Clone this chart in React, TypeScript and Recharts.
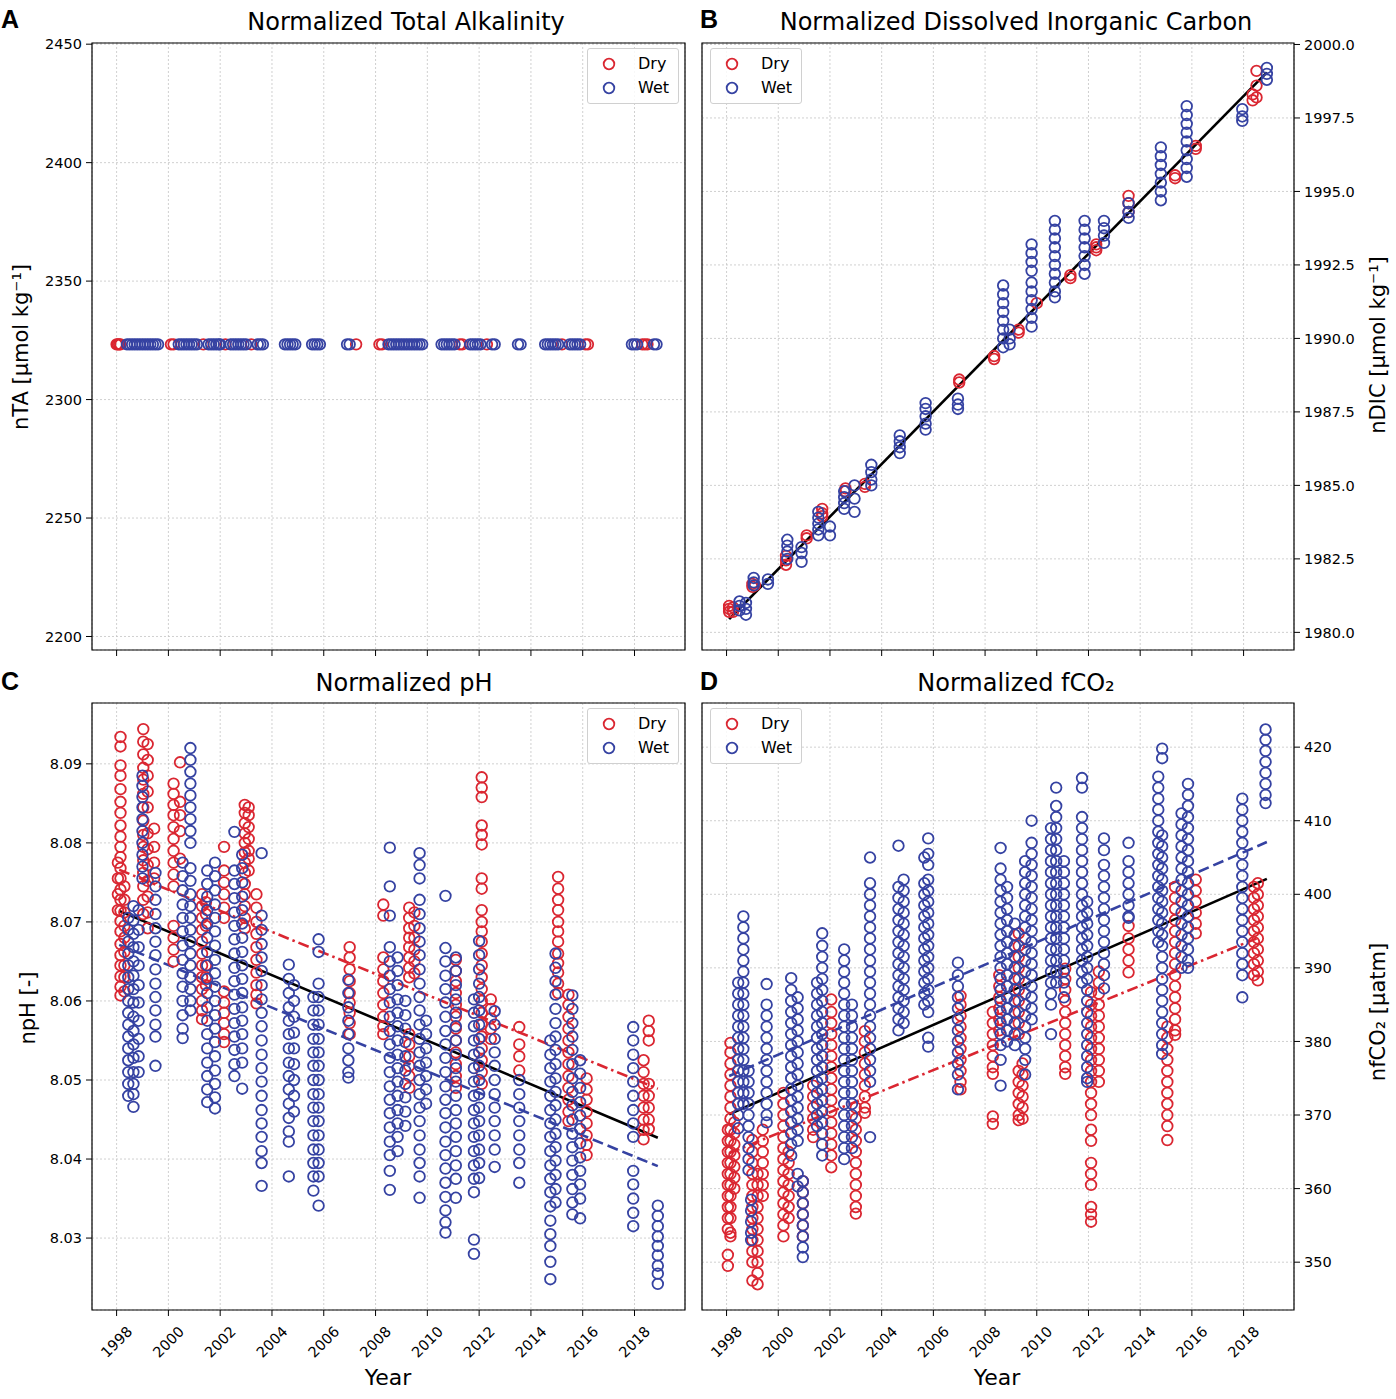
// @ts-nocheck
import React from 'react'
import { ScatterChart, Scatter, XAxis, YAxis, CartesianGrid, ReferenceLine, ReferenceArea } from 'recharts'

type Col = [number, number[]]

const RED = '#da2631'
const BLUE = '#3542a2'
const FONT = 'DejaVu Sans'

const X_DOMAIN = [1997.05, 2019.95]
const YEAR_TICKS = [1998, 2000, 2002, 2004, 2006, 2008, 2010, 2012, 2014, 2016, 2018]

// panel A: nTA is one normalized value, sampled at these times
const TA_LEVEL = 2323.3
const taDryYears = [1998.0, 1998.05, 1998.1, 1998.15, 2000.1, 2000.2, 2001.35, 2002.2, 2003.2, 2007.25,
  2008.15, 2008.25, 2011.25, 2011.35, 2012.3, 2015.2, 2016.1, 2016.2, 2018.3, 2018.4, 2018.5]
const taWetYears = [1998.4, 1998.5, 1998.6, 1998.7, 1998.8, 1998.9, 1999.0, 1999.1, 1999.2, 1999.3, 1999.4,
  1999.5, 1999.6, 2000.4, 2000.5, 2000.6, 2000.7, 2000.8, 2000.9, 2001.0, 2001.1, 2001.55, 2001.65, 2001.75,
  2001.85, 2001.95, 2002.0, 2002.4, 2002.5, 2002.6, 2002.7, 2002.8, 2002.9, 2003.0, 2003.45, 2003.55, 2003.65,
  2004.5, 2004.6, 2004.7, 2004.8, 2004.9, 2005.55, 2005.65, 2005.75, 2005.85, 2006.9, 2007.0, 2008.5, 2008.6,
  2008.7, 2008.8, 2008.9, 2009.0, 2009.1, 2009.2, 2009.3, 2009.4, 2009.5, 2009.6, 2009.7, 2009.8, 2010.55,
  2010.65, 2010.75, 2010.85, 2010.95, 2011.05, 2011.65, 2011.75, 2011.85, 2011.95, 2012.05, 2012.5, 2012.6,
  2013.5, 2013.6, 2014.55, 2014.65, 2014.75, 2014.85, 2014.95, 2015.05, 2015.5, 2015.6, 2015.7, 2015.8,
  2015.9, 2017.9, 2018.0, 2018.1, 2018.75, 2018.85]

// panel B: nDIC
const dicDry: Col[] = [
  [1998.1, [1980.9, 1980.8, 1980.7]], [1998.25, [1980.85, 1980.7]], [1999.0, [1981.65, 1981.55]],
  [1999.1, [1981.6]], [2000.3, [1982.6, 1982.45, 1982.3]], [2001.1, [1983.3, 1983.2]],
  [2001.7, [1984.2, 1984.05, 1983.95]], [2002.6, [1984.9, 1984.8]], [2003.35, [1985.05, 1984.95]],
  [2007.0, [1988.6, 1988.5]], [2008.35, [1989.4, 1989.3]], [2009.3, [1990.3, 1990.2]], [2010.0, [1991.2]],
  [2011.3, [1992.15, 1992.05]], [2012.3, [1993.2, 1993.1, 1993.0]], [2013.55, [1994.85, 1994.6, 1994.3]],
  [2015.35, [1995.55, 1995.45]], [2016.15, [1996.55, 1996.45]], [2018.35, [1998.3, 1998.1]],
  [2018.5, [1999.1, 1998.6, 1998.2]],
]
const dicWet: Col[] = [
  [1998.5, [1981.05, 1980.9, 1980.75]], [1998.75, [1981.0, 1980.8, 1980.6]], [1999.05, [1981.85, 1981.7, 1981.6]],
  [1999.6, [1981.8, 1981.65]], [2000.35, [1983.15, 1982.95, 1982.75, 1982.5]], [2000.9, [1982.9, 1982.7, 1982.4]],
  [2001.55, [1984.1, 1983.9, 1983.7, 1983.5, 1983.3]], [2002.0, [1983.6, 1983.3]],
  [2002.55, [1984.8, 1984.6, 1984.4, 1984.2]], [2002.95, [1985.0, 1984.55, 1984.1]],
  [2003.6, [1985.7, 1985.45, 1985.2, 1985.0]], [2004.7, [1986.7, 1986.5, 1986.3, 1986.1]],
  [2005.7, [1987.8, 1987.6, 1987.35, 1987.1, 1986.9]], [2006.95, [1987.95, 1987.75, 1987.6]],
  [2008.7, [1991.8, 1991.5, 1991.2, 1990.9, 1990.6, 1990.3, 1990.0, 1989.7]], [2008.95, [1990.3, 1990.0, 1989.8]],
  [2009.8, [1993.2, 1992.9, 1992.6, 1992.3, 1991.9, 1991.6, 1991.3, 1991.0, 1990.7, 1990.4]],
  [2010.7, [1994.0, 1993.7, 1993.4, 1993.1, 1992.8, 1992.5, 1992.2, 1991.9, 1991.6, 1991.4]],
  [2011.85, [1994.0, 1993.7, 1993.4, 1993.1, 1992.8, 1992.5, 1992.2]], [2012.6, [1994.0, 1993.75, 1993.5, 1993.25]],
  [2013.55, [1994.6, 1994.3, 1994.1]], [2014.8, [1996.5, 1996.2, 1995.9, 1995.6, 1995.3, 1995.0, 1994.7]],
  [2015.8, [1997.9, 1997.6, 1997.3, 1997.0, 1996.7, 1996.4, 1996.1, 1995.8, 1995.5]],
  [2017.95, [1997.8, 1997.55, 1997.4]], [2018.9, [1999.2, 1999.0, 1998.8]],
]

// panel C: npH
const phDry: Col[] = [
  [1998.05, [8.0775, 8.0755, 8.0735, 8.0715]],
  [1998.15, [8.0934, 8.0922, 8.0898, 8.0885, 8.0868, 8.0852, 8.0838, 8.0822, 8.0808, 8.0795, 8.0782, 8.0768, 8.0755, 8.0741, 8.0728, 8.0714, 8.0701, 8.0688, 8.0672, 8.0658, 8.0645, 8.0631, 8.0618, 8.0607]],
  [1998.3, [8.0745, 8.0728, 8.0712, 8.0695, 8.068, 8.0662, 8.0645, 8.063, 8.0612]],
  [1999.03, [8.0944, 8.0928, 8.0912, 8.0895, 8.088, 8.0862, 8.0845, 8.0828, 8.081, 8.0795, 8.0778, 8.0762, 8.0745, 8.0728, 8.071]],
  [1999.2, [8.0925, 8.0905, 8.0885, 8.0865, 8.0845, 8.0812, 8.0792, 8.0772, 8.0752, 8.0732, 8.0712, 8.0692]],
  [1999.45, [8.0818, 8.0795, 8.0775, 8.0755]],
  [2000.2, [8.0875, 8.0862, 8.0848, 8.0835, 8.082, 8.0805, 8.079, 8.0775, 8.076, 8.0745, 8.0695, 8.068, 8.0665, 8.065]],
  [2000.45, [8.0902, 8.0852, 8.0835, 8.0815, 8.078]],
  [2001.3, [8.0735, 8.072, 8.0705, 8.069, 8.0675, 8.066, 8.0645, 8.063, 8.0615, 8.06, 8.0588, 8.0577]],
  [2001.45, [8.0725, 8.071, 8.0695, 8.0645, 8.063, 8.062]],
  [2002.15, [8.0795, 8.0765, 8.075, 8.0735, 8.0718, 8.0705, 8.0612, 8.0598, 8.0585, 8.0572, 8.0558, 8.0548]],
  [2002.95, [8.0848, 8.0838, 8.0825, 8.0812, 8.08, 8.0788, 8.0775, 8.0762, 8.0748, 8.0735, 8.072, 8.0705, 8.0692]],
  [2003.1, [8.0845, 8.0835, 8.082, 8.0805, 8.079, 8.078, 8.0765]],
  [2003.4, [8.0735, 8.0718, 8.07, 8.0685, 8.0668, 8.0652, 8.0636, 8.062, 8.0608, 8.0597]],
  [2007.0, [8.0668, 8.0655, 8.064, 8.0625, 8.061, 8.0598, 8.0585, 8.0572, 8.0558]],
  [2008.3, [8.0722, 8.0708, 8.0655, 8.064, 8.0625, 8.061, 8.0595, 8.058, 8.0568, 8.0558]],
  [2009.3, [8.0718, 8.0705, 8.0692, 8.068, 8.0668, 8.0655, 8.0642, 8.063, 8.0558, 8.0545, 8.053, 8.0518, 8.0505, 8.049]],
  [2009.5, [8.0712, 8.0695, 8.068, 8.0665, 8.065, 8.0635]],
  [2011.1, [8.0652, 8.0638, 8.0625, 8.061, 8.0595, 8.058, 8.0565, 8.055, 8.0535, 8.052, 8.0505, 8.049]],
  [2012.1, [8.0883, 8.087, 8.0858, 8.0822, 8.081, 8.0798, 8.0755, 8.0742, 8.0715, 8.07, 8.0688, 8.0675, 8.066, 8.0645, 8.063, 8.0615, 8.06, 8.0585, 8.057, 8.0555, 8.054, 8.0525, 8.051, 8.0495]],
  [2012.45, [8.0602, 8.059, 8.0578, 8.0565, 8.0552]],
  [2013.55, [8.0567, 8.0545, 8.053, 8.0512]],
  [2015.05, [8.0757, 8.0742, 8.0728, 8.0715, 8.07, 8.0688, 8.0675, 8.066, 8.0648, 8.0636, 8.0622, 8.061]],
  [2015.45, [8.0608, 8.0595, 8.058, 8.0565, 8.055, 8.0535, 8.052, 8.0505, 8.049, 8.0475, 8.046, 8.0448]],
  [2016.15, [8.0502, 8.0488, 8.0475, 8.046, 8.0445, 8.043, 8.0418, 8.0405]],
  [2018.35, [8.0525, 8.051, 8.0495, 8.048, 8.0465, 8.045, 8.0437, 8.0425]],
  [2018.55, [8.0575, 8.0562, 8.055, 8.0495, 8.048, 8.0465, 8.045, 8.0438]],
]
const phWet: Col[] = [
  [1998.45, [8.0705, 8.069, 8.0675, 8.066, 8.0645, 8.063, 8.0615, 8.06, 8.0585, 8.057, 8.0555, 8.054, 8.0525, 8.051, 8.0495, 8.048]],
  [1998.65, [8.072, 8.0702, 8.0685, 8.0668, 8.065, 8.0632, 8.0615, 8.0598, 8.058, 8.0562, 8.0545, 8.0528, 8.051, 8.0495, 8.0482, 8.0466]],
  [1998.85, [8.0715, 8.069, 8.0668, 8.0645, 8.062, 8.0598, 8.0575, 8.0552, 8.053, 8.051]],
  [1999.0, [8.0885, 8.0872, 8.0858, 8.0845, 8.083, 8.0815, 8.08, 8.0785, 8.077, 8.0755]],
  [1999.5, [8.0762, 8.0745, 8.0728, 8.071, 8.0692, 8.0675, 8.0658, 8.064, 8.0622, 8.0605, 8.0588, 8.057, 8.0555, 8.0518]],
  [2000.55, [8.0775, 8.0758, 8.074, 8.0722, 8.0705, 8.0688, 8.067, 8.0652, 8.0635, 8.0618, 8.06, 8.0582, 8.0565, 8.0553]],
  [2000.85, [8.092, 8.0905, 8.089, 8.0875, 8.086, 8.0845, 8.083, 8.0815, 8.08, 8.0768, 8.0752, 8.0735, 8.072, 8.0705, 8.069, 8.0675, 8.066, 8.0645, 8.063, 8.0615, 8.06, 8.0588]],
  [2001.5, [8.0765, 8.0748, 8.0732, 8.0715, 8.0698, 8.068, 8.0662, 8.0645, 8.0628, 8.061, 8.0592, 8.0575, 8.0558, 8.054, 8.0522, 8.0505, 8.0488, 8.0472]],
  [2001.8, [8.0775, 8.0758, 8.074, 8.0722, 8.0705, 8.0688, 8.067, 8.0652, 8.0635, 8.0618, 8.06, 8.0582, 8.0565, 8.0548, 8.053, 8.0512, 8.0495, 8.0478, 8.0464]],
  [2002.55, [8.0814, 8.0765, 8.0748, 8.073, 8.0712, 8.0695, 8.0678, 8.066, 8.0642, 8.0625, 8.0608, 8.059, 8.0572, 8.0555, 8.0538, 8.052, 8.0505]],
  [2002.85, [8.0785, 8.0768, 8.075, 8.0732, 8.0715, 8.0698, 8.068, 8.0662, 8.0645, 8.0628, 8.061, 8.0592, 8.0575, 8.0558, 8.054, 8.0522, 8.0489]],
  [2003.6, [8.0787, 8.0708, 8.069, 8.0672, 8.0655, 8.0638, 8.062, 8.0602, 8.0585, 8.0568, 8.055, 8.0532, 8.0515, 8.0498, 8.048, 8.0462, 8.0445, 8.0428, 8.041, 8.0395, 8.0366]],
  [2004.65, [8.0646, 8.0628, 8.061, 8.0592, 8.0575, 8.0558, 8.054, 8.0522, 8.0505, 8.0488, 8.047, 8.0452, 8.0435, 8.0422, 8.0378]],
  [2004.85, [8.062, 8.06, 8.058, 8.056, 8.054, 8.052, 8.05, 8.048, 8.046]],
  [2005.6, [8.0605, 8.0588, 8.057, 8.0552, 8.0535, 8.0518, 8.05, 8.0482, 8.0465, 8.0448, 8.043, 8.0412, 8.0395, 8.0378, 8.036]],
  [2005.8, [8.0678, 8.0662, 8.0622, 8.0605, 8.0588, 8.057, 8.0552, 8.0535, 8.0518, 8.05, 8.0482, 8.0465, 8.0448, 8.043, 8.0412, 8.0395, 8.0378, 8.0341]],
  [2006.95, [8.0627, 8.061, 8.0592, 8.0575, 8.0558, 8.054, 8.0525, 8.051, 8.0503]],
  [2008.55, [8.0794, 8.0745, 8.0708, 8.0668, 8.065, 8.0632, 8.0615, 8.0598, 8.058, 8.0562, 8.0545, 8.0528, 8.051, 8.0492, 8.0475, 8.0458, 8.044, 8.0422, 8.0405, 8.0385, 8.0361]],
  [2008.85, [8.0655, 8.0638, 8.062, 8.0602, 8.0585, 8.0568, 8.055, 8.0532, 8.0515, 8.0498, 8.048, 8.0462, 8.0445, 8.0428, 8.041]],
  [2009.15, [8.06, 8.0582, 8.0565, 8.0548, 8.053, 8.0512, 8.0495, 8.0478, 8.046, 8.0442]],
  [2009.7, [8.0787, 8.0772, 8.0755, 8.0728, 8.071, 8.0692, 8.0675, 8.0658, 8.064, 8.0622, 8.0605, 8.0588, 8.057, 8.0552, 8.0535, 8.0518, 8.05, 8.0482, 8.0465, 8.0448, 8.043, 8.0412, 8.0395, 8.0378, 8.0351]],
  [2009.95, [8.0575, 8.0558, 8.054, 8.0522, 8.0505, 8.0488, 8.047]],
  [2010.7, [8.0733, 8.0667, 8.065, 8.0632, 8.0615, 8.0598, 8.058, 8.0562, 8.0545, 8.0528, 8.051, 8.0492, 8.0475, 8.0458, 8.044, 8.0422, 8.0405, 8.0388, 8.037, 8.0352, 8.0335, 8.032, 8.0307]],
  [2011.1, [8.0655, 8.0638, 8.062, 8.0602, 8.0585, 8.0568, 8.055, 8.0532, 8.0515, 8.0498, 8.048, 8.0462, 8.0445, 8.0428, 8.041, 8.0392, 8.0375, 8.0351]],
  [2011.8, [8.0602, 8.0585, 8.0568, 8.055, 8.0532, 8.0515, 8.0498, 8.048, 8.0462, 8.0445, 8.0428, 8.041, 8.0392, 8.0375, 8.0358, 8.0298, 8.028]],
  [2012.0, [8.0676, 8.0658, 8.064, 8.0622, 8.0605, 8.0588, 8.057, 8.0552, 8.0535, 8.0518, 8.05, 8.0482, 8.0465, 8.0448, 8.043, 8.0412, 8.0395, 8.0376]],
  [2012.6, [8.0587, 8.057, 8.0552, 8.0535, 8.0518, 8.05, 8.0482, 8.0465, 8.0448, 8.043, 8.0412, 8.039]],
  [2013.55, [8.05, 8.0482, 8.0465, 8.0448, 8.043, 8.0412, 8.0395, 8.037]],
  [2014.75, [8.055, 8.0532, 8.0515, 8.0498, 8.048, 8.0462, 8.0445, 8.0428, 8.041, 8.0392, 8.0375, 8.0358, 8.034, 8.0322, 8.0305, 8.029, 8.027, 8.0248]],
  [2014.95, [8.066, 8.0642, 8.0625, 8.0608, 8.059, 8.0572, 8.0555, 8.0538, 8.052, 8.0502, 8.0485, 8.0468, 8.045, 8.0432, 8.0415, 8.0398, 8.038, 8.0362, 8.0345]],
  [2015.6, [8.0607, 8.059, 8.0572, 8.0555, 8.0538, 8.052, 8.0502, 8.0485, 8.0468, 8.045, 8.0432, 8.0415, 8.0398, 8.038, 8.0362, 8.0345, 8.033]],
  [2015.9, [8.0525, 8.0508, 8.049, 8.0472, 8.0455, 8.0438, 8.042, 8.0402, 8.0385, 8.0368, 8.035, 8.0325]],
  [2017.95, [8.0567, 8.055, 8.0532, 8.0515, 8.0498, 8.048, 8.0462, 8.0445, 8.0428, 8.0385, 8.0368, 8.035, 8.0332, 8.0315]],
  [2018.9, [8.0341, 8.0328, 8.0315, 8.0302, 8.029, 8.0278, 8.0265, 8.0255, 8.0242]],
]

// panel D: nfCO2
const co2Dry: Col[] = [
  [1998.05, [368, 366.5, 365, 363.5, 362, 360.5, 359, 357.5, 356, 354.5, 351, 349.5]],
  [1998.15, [379.8, 378.5, 377, 375.5, 374, 372.5, 371, 369.5, 368, 366.5, 365, 363.5, 362, 360.5, 359, 357.5, 356, 354, 353.5]],
  [1998.3, [369, 367.5, 366, 364.5, 363, 361.5, 360]],
  [1999.0, [366.6, 365, 363.5, 362, 360.5, 359, 357.5, 356, 354.5, 353, 351.5, 350, 347.5]],
  [1999.2, [362, 360.5, 359, 357.5, 356, 354.5, 353, 351.5, 350, 348.5, 347]],
  [1999.4, [368, 366.5, 365, 363.5, 362, 360.5, 359]],
  [2000.2, [373, 371.5, 370, 368.5, 367, 365.5, 364, 362.5, 361, 359.5, 358, 356.5, 355, 353.5]],
  [2000.4, [365, 363.5, 362, 360.5, 359, 357.5, 356]],
  [2000.95, [361, 359.5, 358, 356.5, 355, 353.5]],
  [2001.35, [374, 372.5, 371, 369.5, 368, 367]],
  [2002.05, [385.7, 384, 382.5, 381, 379.5, 378, 376.5, 375, 373.5, 372, 370.5, 369, 367.5, 366, 364.5, 362.9]],
  [2003.0, [371, 369.5, 368, 366.5, 365, 363.5, 362, 360.5, 359, 357.5, 356.6]],
  [2003.35, [381.4, 380, 378.5, 377, 375.5, 374, 372.5, 371, 370.3]],
  [2007.05, [386.2, 385, 383.5, 382, 380.5, 379, 377.5, 376, 374.5, 373.5]],
  [2008.3, [384, 382.5, 381, 379.5, 378, 376.5, 375.6, 369.8, 368.8]],
  [2008.55, [389, 387.5, 386, 384.5, 383, 381.5]],
  [2009.3, [394.7, 393, 391.5, 390, 388.5, 387, 385.5, 384, 382.5, 381, 376, 374.5, 373, 371.5, 370, 369.3]],
  [2009.45, [377, 375.5, 374, 372.5, 371, 369.5]],
  [2011.1, [389.9, 388.5, 387, 385.5, 384, 382.5, 381, 379.5, 378, 376.5, 375.6]],
  [2012.1, [386.7, 385, 383.5, 382, 380.5, 379, 377.5, 376, 374.5, 373, 371.5, 370, 368, 366.5, 363.5, 362, 360.5, 357.5, 356.5, 355.5]],
  [2012.4, [389.5, 388, 386.5, 385, 383.5, 382, 380.5, 379, 377.5, 376, 374.5]],
  [2013.55, [395.7, 394, 392.5, 391, 389.4]],
  [2015.05, [382, 380.5, 379, 377.5, 376, 374.5, 373, 371.5, 370, 368.5, 366.6]],
  [2015.35, [401, 399.5, 398, 396.5, 395, 393.5, 392, 390.5, 389, 387.5, 386, 384.5, 383, 381.5, 380.9]],
  [2016.15, [402, 400.5, 399, 397.5, 396, 394.7]],
  [2018.4, [401, 399.5, 398, 396.5, 395, 393.5, 392, 390.5, 389]],
  [2018.55, [401.5, 400, 398.5, 397, 395.5, 394, 392.5, 391, 389.5, 388.3]],
]
const co2Wet: Col[] = [
  [1998.45, [388, 386.5, 385, 383.5, 382, 380.5, 379, 377.5, 376, 374.5, 373, 371.5, 370, 368.2]],
  [1998.65, [397, 395.5, 394, 392.5, 391, 389.5, 388, 386.5, 385, 383.5, 382, 380.5, 379, 377.5, 376, 374.5, 373, 371.5]],
  [1998.85, [376, 374.5, 373, 371.5, 370, 368.5, 367, 365.5, 364, 362.5]],
  [1998.95, [358.5, 357, 355.5, 354, 353]],
  [1999.55, [387.8, 385, 383.5, 382, 380.5, 379, 377.5, 376, 374.5, 373, 371.5, 370, 369]],
  [2000.5, [388.6, 387, 385.5, 384, 382.5, 381, 379.5, 378, 376.5, 375, 373.5, 372, 370.5, 369, 367.5, 366, 364.5]],
  [2000.75, [386, 384.5, 383, 381.5, 380, 378.5, 377, 375.5, 374, 372.5, 371, 369.5, 368, 366.5, 362, 360.3]],
  [2000.95, [361, 359.5, 358, 356.5, 355, 353.5, 352, 350.7]],
  [2001.5, [388, 386.5, 385, 383.5, 382, 380.5, 379, 377.5, 376, 374.5, 373, 371.5, 370, 368.5]],
  [2001.7, [394.7, 393, 391.5, 390, 388.5, 387, 385.5, 384, 382.5, 381, 379.5, 378, 376.5, 375, 373.5, 372, 370.5, 369, 367.5, 366, 364.5]],
  [2002.55, [392.5, 391, 389.5, 388, 386.5, 385, 383.5, 382, 380.5, 379, 377.5, 376, 374.5, 373, 371.5, 370, 368.5, 367, 365.5, 364]],
  [2002.85, [385, 383.5, 382, 380.5, 379, 377.5, 376, 374.5, 373, 371.5, 370, 368.5, 367, 365.5]],
  [2003.55, [405, 401.5, 400, 398.5, 397, 395.5, 394, 392.5, 391, 389.5, 388, 386.5, 385, 383.5, 382, 380.5, 379, 377.5, 376, 374.5, 367]],
  [2004.65, [406.6, 401, 399.5, 398, 396.5, 395, 393.5, 392, 390.5, 389, 387.5, 386, 384.5, 383, 381.5]],
  [2004.85, [402, 400.5, 399, 397.5, 396, 394.5, 393, 391.5, 390, 388.5, 387, 385.5, 384, 382.5]],
  [2005.65, [405, 401.5, 400, 398.5, 397, 395.5, 394, 392.5, 391, 389.5, 388, 386.5, 385]],
  [2005.8, [407.6, 405.5, 404, 402, 400.5, 399, 397.5, 396, 394.5, 393, 391.5, 390, 388.5, 387, 385.5, 384, 380.5, 379.3]],
  [2006.95, [390.7, 389, 387.5, 386, 384.5, 383, 381.5, 380, 378.5, 377, 375.5, 373.5]],
  [2008.6, [406.3, 403.5, 402, 400.5, 399, 397.5, 396, 394.5, 393, 391.5, 390, 388.5, 387, 385.5, 384, 382.5, 381, 379.5, 377.5, 374]],
  [2008.85, [401, 399.5, 398, 396.5, 395, 393.5, 392, 390.5, 389, 387.5, 386, 384.5, 383, 381.5, 380]],
  [2009.15, [396, 394.5, 393, 391.5, 390, 388.5, 387, 385.5, 384, 382.5, 381, 379.5]],
  [2009.55, [404.5, 403, 401.5, 400, 398.5, 397, 395.5, 394, 392.5, 391, 389.5, 388, 386.5, 385, 383.5, 382, 380.5, 379, 377.5, 375.5]],
  [2009.8, [410, 407, 405.5, 404, 402.5, 401, 399.5, 398, 396.5, 395, 393.5, 392, 390.5, 389, 387.5, 386, 384.5, 383]],
  [2010.55, [409, 407.5, 406, 404.5, 403, 401.5, 400, 398.5, 397, 395.5, 394, 392.5, 391, 389.5, 388, 386.5, 385, 381]],
  [2010.75, [414.5, 412, 410.5, 409, 407.5, 406, 404.5, 403, 401.5, 400, 398.5, 397, 395.5, 394, 392.5, 391, 389.5, 388]],
  [2011.05, [404.5, 403, 401.5, 400, 398.5, 397, 395.5, 394, 392.5, 391, 389.5, 388, 386]],
  [2011.75, [415.8, 414.5, 410.5, 409, 407.5, 406, 404.5, 403, 401.5, 400, 398.5, 397, 395.5, 394, 392.5, 391, 389.5, 388]],
  [2011.95, [399, 397.5, 396, 394.5, 393, 391.5, 390, 388.5, 387, 385.5, 384, 382.5, 381, 379.5, 378, 376.5, 375, 374.5]],
  [2012.6, [407.6, 406, 404, 402.5, 401, 399.5, 398, 396.5, 395, 393.5, 392, 390.5, 389, 387.2]],
  [2013.55, [407, 404.5, 403, 401.5, 400, 398.5, 397, 396.8]],
  [2014.7, [416, 414.5, 413, 411.5, 410, 408.5, 407, 405.5, 404, 402.5, 401, 399.5, 398, 396.5, 395, 393.5]],
  [2014.85, [419.8, 418.5, 408, 406.5, 405, 403.5, 402, 400.5, 399, 397.5, 396, 394.5, 393, 391.5, 390, 388.5, 387, 385.5, 384, 382.5, 381, 379.5, 378.3]],
  [2015.6, [411, 409.5, 408, 406.5, 405, 403.5, 402, 400.5, 399, 397.5, 396, 394.5, 393, 391.5, 390]],
  [2015.85, [415, 413.5, 412, 410.5, 409, 407.5, 406, 404.5, 403, 401.5, 400, 398.5, 397, 395.5, 394, 392.5, 391, 390]],
  [2017.95, [413, 411.5, 410, 408.5, 407, 405.5, 404, 402.5, 401, 399.5, 398, 396.5, 395, 393.5, 392, 390.5, 389, 386]],
  [2018.85, [422.4, 421, 419.5, 418, 416.5, 415, 413.5, 412.4]],
]

// linear fits: [start, end]
const dicFitAll = [[1998.1, 1980.45], [2018.9, 1999.05]]
const phFitAll = [[1998.1, 8.0714], [2018.9, 8.0427]]
const phFitDry = [[1998.1, 8.0766], [2018.9, 8.0489]]
const phFitWet = [[1998.1, 8.0671], [2018.9, 8.0391]]
const co2FitAll = [[1998.1, 370.1], [2018.9, 402.1]]
const co2FitDry = [[1998.1, 364.8], [2018.5, 394.0]]
const co2FitWet = [[1998.1, 375.3], [2018.9, 407.1]]

const cols = (c: Col[]) => c.flatMap(([x, ys]) => ys.map(y => ({ x, y })))
const row = (xs: number[]) => xs.map(x => ({ x, y: TA_LEVEL }))

const ring = (color: string) => (p: any) =>
  <circle cx={p.cx} cy={p.cy} r={5.3} fill="none" stroke={color} strokeWidth={1.8} />

const YearTick = ({ x, y, payload }: any) => {
  const cy = y + 24
  return (
    <text x={x} y={cy} transform={`rotate(-45 ${x} ${cy})`} textAnchor="middle" dominantBaseline="central"
      fontSize={14.5} fontFamily={FONT} fill="#000">{payload.value}</text>
  )
}

const lineStyle = {
  all: { stroke: '#000', dash: undefined },
  dry: { stroke: RED, dash: '11 4 2.5 4' },
  wet: { stroke: BLUE, dash: '11 5' },
}

function Panel({ left, top, height, side, yDomain, yTicks, yFormat, dry, wet, fits, bottomAxis }: any) {
  const width = side === 'left' ? 700 : 696
  const margin = side === 'left' ? { top: 43, right: 15, bottom: 0, left: 0 } : { top: 43, right: 0, bottom: 0, left: 2 }
  return (
    <div style={{ position: 'absolute', left, top, width, height }}>
      <ScatterChart width={width} height={height} margin={margin}>
        <CartesianGrid stroke="#c4c4c4" strokeDasharray="2 2" strokeWidth={0.8} />
        <XAxis type="number" dataKey="x" domain={X_DOMAIN} ticks={YEAR_TICKS} interval={0} allowDataOverflow
          height={bottomAxis ? 89 : 10} tickSize={6} stroke="#000" axisLine={false}
          tick={bottomAxis ? <YearTick /> : () => <g />} />
        <YAxis type="number" dataKey="y" orientation={side} width={side === 'left' ? 92 : 102} domain={yDomain}
          ticks={yTicks} interval={0} allowDataOverflow tickSize={6} tickMargin={4} stroke="#000" axisLine={false}
          tickFormatter={yFormat} tick={{ fill: '#000', fontSize: 14.5, fontFamily: FONT }} />
        <Scatter data={dry} shape={ring(RED)} isAnimationActive={false} />
        <Scatter data={wet} shape={ring(BLUE)} isAnimationActive={false} />
        {fits.map((f: any, i: number) => (
          <ReferenceLine key={i} segment={[{ x: f.pts[0][0], y: f.pts[0][1] }, { x: f.pts[1][0], y: f.pts[1][1] }]}
            stroke={lineStyle[f.kind].stroke} strokeDasharray={lineStyle[f.kind].dash} strokeWidth={2.6} ifOverflow="visible" />
        ))}
        <ReferenceArea x1={X_DOMAIN[0]} x2={X_DOMAIN[1]} y1={yDomain[0]} y2={yDomain[1]} fill="none"
          fillOpacity={0} stroke="#000" strokeWidth={1.2} ifOverflow="visible" />
      </ScatterChart>
    </div>
  )
}

const txt = { position: 'absolute', fontFamily: FONT, color: '#000', whiteSpace: 'nowrap', lineHeight: 1 } as any

function Title({ x, y, children }: any) {
  return <div style={{ ...txt, left: x, top: y, fontSize: 24, transform: 'translate(-50%, -50%)' }}>{children}</div>
}
function Letter({ x, y, children }: any) {
  return <div style={{ ...txt, left: x, top: y, fontSize: 25, fontWeight: 'bold', fontFamily: 'Liberation Sans' }}>{children}</div>
}
function VLabel({ x, y, children }: any) {
  return <div style={{ ...txt, left: x, top: y, fontSize: 21, transform: 'translate(-50%, -50%) rotate(-90deg)' }}>{children}</div>
}
function HLabel({ x, y, children }: any) {
  return <div style={{ ...txt, left: x, top: y, fontSize: 22, transform: 'translate(-50%, -50%)' }}>{children}</div>
}
function Key({ x, y }: any) {
  const item = (color: string, label: string, cy: number) => (
    <div style={{ position: 'absolute', left: 0, top: cy - 10, height: 20, width: 90 }}>
      <svg width={20} height={20} style={{ position: 'absolute', left: 11, top: 0 }}>
        <circle cx={10} cy={10} r={5.3} fill="none" stroke={color} strokeWidth={1.8} />
      </svg>
      <span style={{ ...txt, left: 50, top: 2, fontSize: 16 }}>{label}</span>
    </div>
  )
  return (
    <div style={{ position: 'absolute', left: x, top: y, width: 90, height: 54, border: '1px solid #d0d0d0',
      borderRadius: 3, background: 'rgba(255,255,255,0.85)' }}>
      {item(RED, 'Dry', 15)}
      {item(BLUE, 'Wet', 39)}
    </div>
  )
}

export default function App() {
  return (
    <div style={{ position: 'absolute', left: 0, top: 0, width: 1396, height: 1399, background: '#fff', overflow: 'hidden' }}>
      <Panel left={0} top={0} height={660} side="left" yDomain={[2194.3, 2450.5]}
        yTicks={[2200, 2250, 2300, 2350, 2400, 2450]} yFormat={(v: number) => String(v)}
        dry={row(taDryYears)} wet={row(taWetYears)} fits={[]} bottomAxis={false} />
      <Panel left={700} top={0} height={660} side="right" yDomain={[1979.4, 2000.05]}
        yTicks={[1980, 1982.5, 1985, 1987.5, 1990, 1992.5, 1995, 1997.5, 2000]} yFormat={(v: number) => v.toFixed(1)}
        dry={cols(dicDry)} wet={cols(dicWet)} fits={[{ kind: 'all', pts: dicFitAll }]} bottomAxis={false} />
      <Panel left={0} top={660} height={739} side="left" yDomain={[8.0209, 8.0977]}
        yTicks={[8.03, 8.04, 8.05, 8.06, 8.07, 8.08, 8.09]} yFormat={(v: number) => v.toFixed(2)}
        dry={cols(phDry)} wet={cols(phWet)} bottomAxis
        fits={[{ kind: 'dry', pts: phFitDry }, { kind: 'wet', pts: phFitWet }, { kind: 'all', pts: phFitAll }]} />
      <Panel left={700} top={660} height={739} side="right" yDomain={[343.5, 426]}
        yTicks={[350, 360, 370, 380, 390, 400, 410, 420]} yFormat={(v: number) => String(v)}
        dry={cols(co2Dry)} wet={cols(co2Wet)} bottomAxis
        fits={[{ kind: 'dry', pts: co2FitDry }, { kind: 'wet', pts: co2FitWet }, { kind: 'all', pts: co2FitAll }]} />

      <Letter x={1} y={7}>A</Letter>
      <Letter x={700} y={7}>B</Letter>
      <Letter x={1} y={669}>C</Letter>
      <Letter x={700} y={669}>D</Letter>
      <Title x={406} y={22}>Normalized Total Alkalinity</Title>
      <Title x={1016} y={22}>Normalized Dissolved Inorganic Carbon</Title>
      <Title x={404} y={683}>Normalized pH</Title>
      <Title x={1016} y={683}>Normalized fCO₂</Title>
      <VLabel x={21} y={347}>nTA [µmol kg⁻¹]</VLabel>
      <VLabel x={1378} y={345}>nDIC [µmol kg⁻¹]</VLabel>
      <VLabel x={28} y={1008}>npH [-]</VLabel>
      <VLabel x={1378} y={1012}>nfCO₂ [µatm]</VLabel>
      <HLabel x={388} y={1378}>Year</HLabel>
      <HLabel x={997} y={1378}>Year</HLabel>
      <Key x={587} y={48} />
      <Key x={710} y={48} />
      <Key x={587} y={708} />
      <Key x={710} y={708} />
    </div>
  )
}
